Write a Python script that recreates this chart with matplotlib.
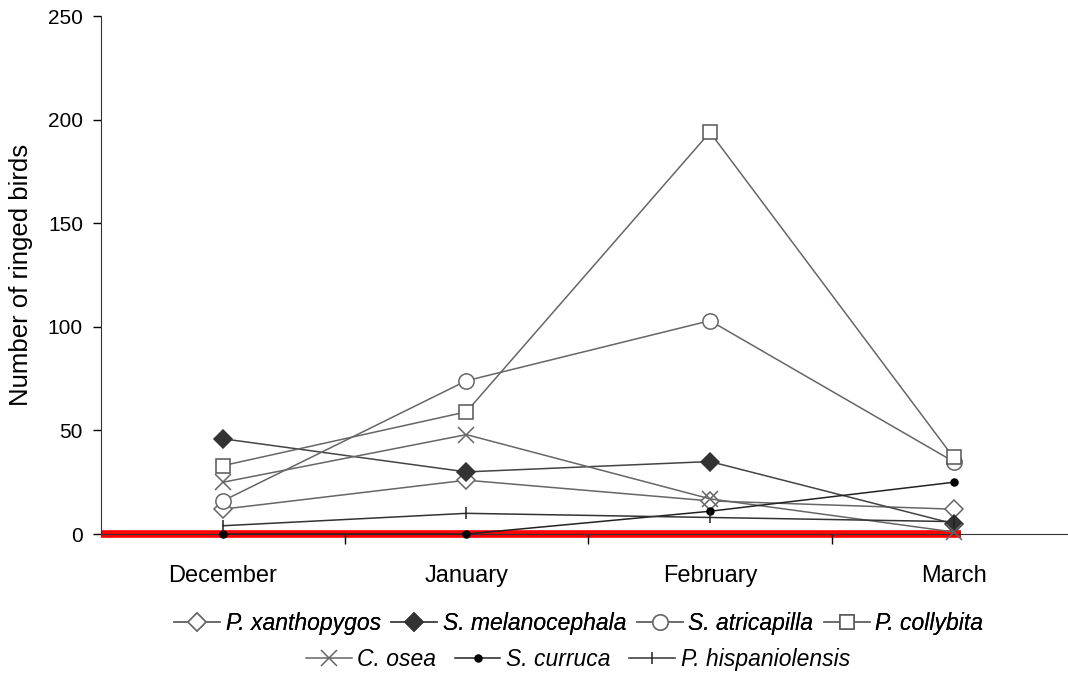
import matplotlib
matplotlib.use("Agg")
import matplotlib.pyplot as plt
import numpy as np

plt.rcParams["font.family"] = ["Liberation Sans", "DejaVu Sans"]

months = ["December", "January", "February", "March"]

xanthopygos = [12, 26, 16, 12]
melanocephala = [46, 30, 35, 5]
atricapilla = [16, 74, 103, 35]
collybita = [33, 59, 194, 37]
osea = [25, 48, 17, 1]
curruca = [0, 0, 11, 25]
hispaniolensis = [4, 10, 8, 6]

names = ["P. xanthopygos", "S. melanocephala", "S. atricapilla", "P. collybita",
         "C. osea", "S. curruca", "P. hispaniolensis"]
series = [xanthopygos, melanocephala, atricapilla, collybita, osea, curruca, hispaniolensis]
markers = ["D", "D", "o", "s", "x", "o", "|"]
msizes = [9, 9, 11, 10, 11, 5, 9]
faces = ["white", "#333333", "white", "white", "none", "black", "none"]
edges = ["#666666", "#333333", "#666666", "#555555", "#666666", "black", "#222222"]
lcolors = ["#666666", "#444444", "#666666", "#666666", "#666666", "#222222", "#333333"]

x = np.arange(len(months))

fig = plt.figure(figsize=(10.68, 6.76), dpi=100)
ax = fig.add_axes([0.0946, 0.21, 0.9054, 0.766])

# red baseline
ax.hlines(0, -0.5, 3.03, color="#ff0000", lw=5.5, zorder=1, clip_on=False)

handles = []
for s, name, m, ms, fc, ec, lc in zip(series, names, markers, msizes, faces, edges, lcolors):
    h, = ax.plot(x, s, color=lc, lw=1.1, marker=m, markersize=ms,
                 markerfacecolor=fc, markeredgecolor=ec, markeredgewidth=1.1,
                 label=name, zorder=3, clip_on=False)
    handles.append(h)

ax.set_xlim(-0.5, 3.47)
ax.set_ylim(0, 250)
ax.set_yticks([0, 50, 100, 150, 200, 250])
ax.set_xticks(x)
ax.set_xticklabels(months)
ax.set_xticks([0.5, 1.5, 2.5], minor=True)
ax.tick_params(axis="x", which="major", length=0, pad=22, labelsize=17)
ax.tick_params(axis="x", which="minor", length=7, width=1, direction="out")
ax.tick_params(axis="y", length=6, width=1, pad=7, labelsize=15)
ax.spines["top"].set_visible(False)
ax.spines["right"].set_visible(False)
ax.spines["left"].set_color("#333333")
ax.spines["bottom"].set_color("#333333")
ax.set_ylabel("Number of ringed birds", fontsize=18.5, labelpad=11)

leg1 = fig.legend(handles[:4], names[:4], ncol=4, loc="center",
                  bbox_to_anchor=(0.542, 0.078), frameon=False,
                  prop={"style": "italic", "size": 16.5},
                  handlelength=2.0, handletextpad=0.25, columnspacing=0.45)
fig.add_artist(leg1)
fig.legend(handles[4:], names[4:], ncol=3, loc="center",
           bbox_to_anchor=(0.541, 0.024), frameon=False,
           prop={"style": "italic", "size": 16.5},
           handlelength=2.0, handletextpad=0.25, columnspacing=0.8)

fig.savefig("out.png", dpi=100)
